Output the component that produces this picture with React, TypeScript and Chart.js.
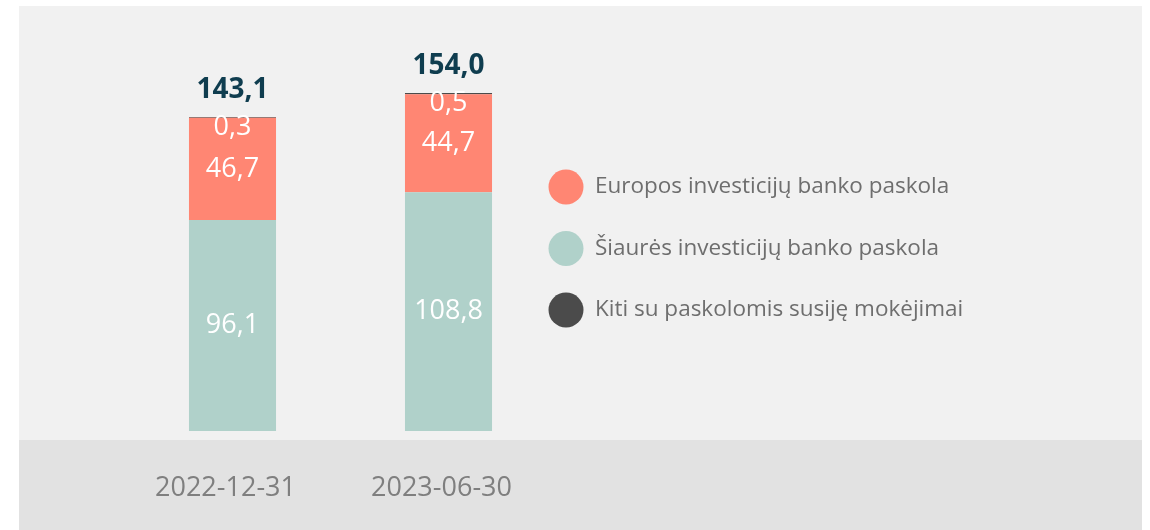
import React, { useEffect, useRef } from 'react';
import { Chart, registerables } from 'chart.js';

Chart.register(...registerables);

const categories = ['2022-12-31', '2023-06-30'];
const siauresValues = [96.1, 108.8];
const europosValues = [46.7, 44.7];
const kitiValues = [0.3, 0.5];
const seriesNames = [
  'Šiaurės investicijų banko paskola',
  'Europos investicijų banko paskola',
  'Kiti su paskolomis susiję mokėjimai',
];
const seriesColors = ['#b0d1ca', '#ff8673', '#4b4b4b'];
const legendOrder = [1, 0, 2];

const fmt = (v: number) => v.toFixed(1).replace('.', ',');

const bgPlugin = {
  id: 'bgPanels',
  beforeDraw(chart: any) {
    const ctx = chart.ctx;
    ctx.save();
    ctx.fillStyle = '#f1f1f1';
    ctx.fillRect(19, 6, 1123, 434);
    ctx.fillStyle = '#e2e2e2';
    ctx.fillRect(19, 440, 1123, 90);
    ctx.restore();
  },
};

const labelPlugin = {
  id: 'valueLabels',
  afterDatasetsDraw(chart: any) {
    const ctx = chart.ctx;
    ctx.save();
    ctx.textAlign = 'center';
    const n = chart.data.labels.length;
    for (let i = 0; i < n; i++) {
      let top = Infinity;
      let total = 0;
      let x = 0;
      chart.data.datasets.forEach((ds: any, di: number) => {
        const el: any = chart.getDatasetMeta(di).data[i];
        const v = ds.data[i];
        total += v;
        const yTop = Math.min(el.y, el.base);
        const yBot = Math.max(el.y, el.base);
        top = Math.min(top, yTop);
        x = el.x;
        const h = yBot - yTop;
        ctx.font = '27px "Open Sans"';
        ctx.fillStyle = '#ffffff';
        ctx.textBaseline = 'middle';
        const y = h >= 30 ? (yTop + yBot) / 2 : yTop + 10;
        ctx.fillText(fmt(v), x, y);
      });
      ctx.font = 'bold 28px "Open Sans"';
      ctx.fillStyle = '#0f3d4f';
      ctx.textBaseline = 'alphabetic';
      ctx.fillText(fmt(total), x, top - 19);
    }
    ctx.restore();
  },
};

const legendPlugin = {
  id: 'customLegend',
  afterDraw(chart: any) {
    const ctx = chart.ctx;
    ctx.save();
    ctx.font = '22.5px "Open Sans"';
    ctx.textAlign = 'left';
    ctx.textBaseline = 'middle';
    legendOrder.forEach((di, k) => {
      const ds = chart.data.datasets[di];
      const cy = 187 + k * 61.5;
      ctx.fillStyle = ds.backgroundColor;
      ctx.beginPath();
      ctx.arc(566, cy, 17.5, 0, Math.PI * 2);
      ctx.fill();
      ctx.fillStyle = '#6e6e6e';
      ctx.fillText(ds.label, 595, cy);
    });
    ctx.restore();
  },
};

export default function App() {
  const ref = useRef<HTMLCanvasElement>(null);
  useEffect(() => {
    if (!ref.current) return;
    const chart = new Chart(ref.current, {
      type: 'bar',
      data: {
        labels: categories,
        datasets: [
          { label: seriesNames[0], data: siauresValues, backgroundColor: seriesColors[0] },
          { label: seriesNames[1], data: europosValues, backgroundColor: seriesColors[1] },
          { label: seriesNames[2], data: kitiValues, backgroundColor: seriesColors[2] },
        ],
      },
      options: {
        responsive: false,
        animation: false,
        layout: { padding: { left: 124.5, right: 593.5, top: 36, bottom: 0 } },
        datasets: { bar: { categoryPercentage: 1, barPercentage: 0.403 } },
        plugins: { legend: { display: false }, tooltip: { enabled: false } },
        scales: {
          x: {
            stacked: true,
            grid: { display: false, drawTicks: false },
            border: { display: false },
            afterFit: (scale: any) => {
              scale.height = 99;
            },
            ticks: {
              font: { family: 'Open Sans', size: 27 },
              color: '#7f7f7f',
              padding: 41,
              labelOffset: -7,
            },
          },
          y: { stacked: true, display: false, min: 0, max: 180 },
        },
      } as any,
      plugins: [bgPlugin, labelPlugin, legendPlugin],
    });
    return () => chart.destroy();
  }, []);
  return (
    <div style={{ position: 'fixed', left: 0, top: 0, width: 1150, height: 530 }}>
      <canvas ref={ref} width={1150} height={530} style={{ display: 'block' }} />
    </div>
  );
}
